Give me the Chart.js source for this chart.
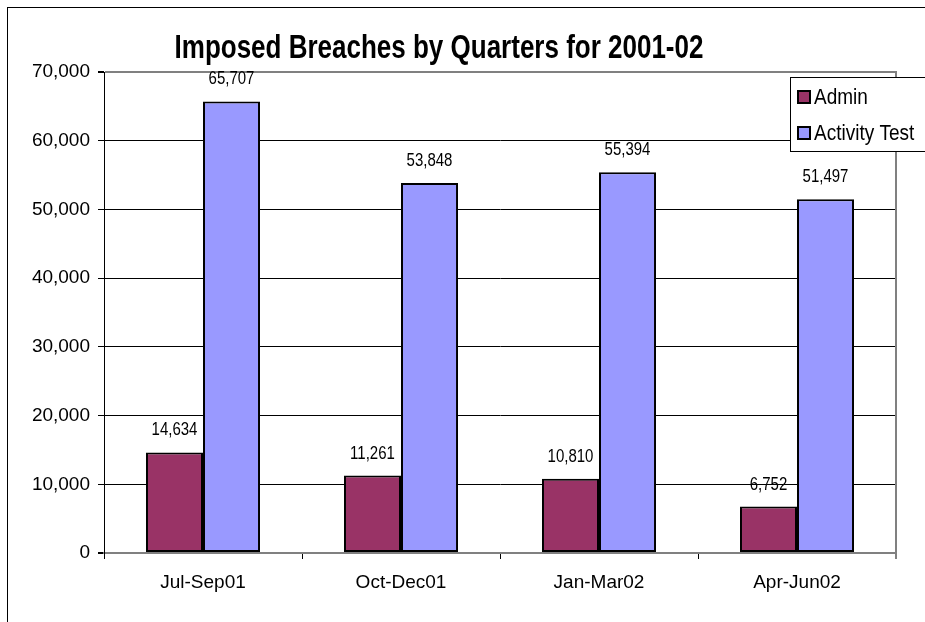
<!DOCTYPE html>
<html>
<head>
<meta charset="utf-8">
<script src="https://cdn.jsdelivr.net/npm/chart.js@4"></script>
<style>
  html, body { margin: 0; padding: 0; background: #fff; }
  #wrap { width: 925px; height: 622px; }
</style>
</head>
<body>
<div id="wrap"><canvas id="grafico" width="925" height="622"></canvas></div>
<script>
const titulo = 'Imposed Breaches by Quarters for 2001-02';
const trimestres = ['Jul-Sep01', 'Oct-Dec01', 'Jan-Mar02', 'Apr-Jun02'];
const admin = [14634, 11261, 10810, 6752];
const activityTest = [65707, 53848, 55394, 51497];
const yTicks = [0, 10000, 20000, 30000, 40000, 50000, 60000, 70000];

const FONTE = '"Liberation Sans", Arial, sans-serif';
const fmt = v => v.toLocaleString('en-US');

// texto um pouco "esticado" na vertical, como no original
function textoAlto(ctx, txt, x, y, esc) {
    ctx.save();
    ctx.translate(x, y);
    ctx.scale(1, esc);
    ctx.fillText(txt, 0, 0);
    ctx.restore();
}

// moldura, titulo, legenda, rotulos
const extras = {
    id: 'extras',
    beforeDraw(chart) {
        const ctx = chart.ctx;
        ctx.save();
        ctx.fillStyle = '#fff';
        ctx.fillRect(0, 0, chart.width, chart.height);
        ctx.strokeStyle = '#000';
        ctx.lineWidth = 1;
        ctx.strokeRect(7.5, 7.5, chart.width + 20, chart.height + 20);
        ctx.restore();
    },
    afterDatasetsDraw(chart) {
        const ctx = chart.ctx;
        const area = chart.chartArea;
        ctx.save();
        // borda direita cinza
        ctx.strokeStyle = '#808080';
        ctx.lineWidth = 2;
        ctx.beginPath();
        ctx.moveTo(area.right, area.top - 1);
        ctx.lineTo(area.right, area.bottom + 6);
        ctx.stroke();

        ctx.fillStyle = '#000';
        ctx.font = '15px ' + FONTE;
        ctx.textAlign = 'center';
        ctx.textBaseline = 'middle';
        chart.data.datasets.forEach((ds, i) => {
            chart.getDatasetMeta(i).data.forEach((bar, j) => {
                textoAlto(ctx, fmt(ds.data[j]), bar.x, bar.y - 22, 1.2);
            });
        });
        ctx.restore();
    },
    afterDraw(chart) {
        const ctx = chart.ctx;
        ctx.save();
        ctx.fillStyle = '#000';
        ctx.font = 'bold 26px ' + FONTE;
        ctx.textAlign = 'center';
        ctx.textBaseline = 'alphabetic';
        textoAlto(ctx, titulo, 439, 58, 1.25);

        // legenda
        ctx.fillStyle = '#fff';
        ctx.fillRect(790, 77, 150, 74);
        ctx.strokeStyle = '#000';
        ctx.lineWidth = 1;
        ctx.strokeRect(790.5, 77.5, 150, 74);
        ctx.font = '19px ' + FONTE;
        ctx.textAlign = 'left';
        ctx.textBaseline = 'middle';
        const ys = [97, 133];
        chart.data.datasets.forEach((ds, i) => {
            ctx.fillStyle = ds.backgroundColor;
            ctx.fillRect(798, ys[i] - 6, 12, 12);
            ctx.lineWidth = 2;
            ctx.strokeRect(798, ys[i] - 6, 12, 12);
            ctx.fillStyle = '#000';
            textoAlto(ctx, ds.label, 814, ys[i] + 1, 1.2);
        });
        ctx.restore();
    }
};

new Chart(document.getElementById('grafico').getContext('2d'), {
    type: 'bar',
    data: {
        labels: trimestres,
        datasets: [
            { label: 'Admin', data: admin, backgroundColor: '#993366', borderColor: '#000', borderWidth: 2, borderSkipped: false },
            { label: 'Activity Test', data: activityTest, backgroundColor: '#9999FF', borderColor: '#000', borderWidth: 2, borderSkipped: false }
        ]
    },
    options: {
        responsive: false,
        animation: false,
        categoryPercentage: 0.576,
        barPercentage: 1,
        layout: { padding: { top: 72, right: 29, left: 0, bottom: 0 } },
        plugins: { legend: { display: false }, title: { display: false }, tooltip: { enabled: false } },
        scales: {
            x: {
                afterFit: s => { s.height = 69; },
                border: { color: '#808080', width: 2 },
                grid: { offset: true, drawOnChartArea: false, tickLength: 6, tickColor: '#000' },
                ticks: { color: '#000', padding: 12, font: { family: FONTE, size: 19 } }
            },
            y: {
                min: 0,
                max: 70000,
                afterFit: s => { s.width = 104; },
                afterBuildTicks: s => { s.ticks = yTicks.map(v => ({ value: v })); },
                border: { color: '#000', width: 1 },
                grid: {
                    color: c => (c.tick && (c.tick.value === 70000 || c.tick.value === 0)) ? '#808080' : '#000',
                    lineWidth: c => (c.tick && (c.tick.value === 70000 || c.tick.value === 0)) ? 2 : 1,
                    tickLength: 6,
                    tickColor: '#000'
                },
                ticks: { color: '#000', padding: 8, font: { family: FONTE, size: 19 }, callback: v => fmt(v) }
            }
        }
    },
    plugins: [extras]
});
</script>
</body>
</html>
